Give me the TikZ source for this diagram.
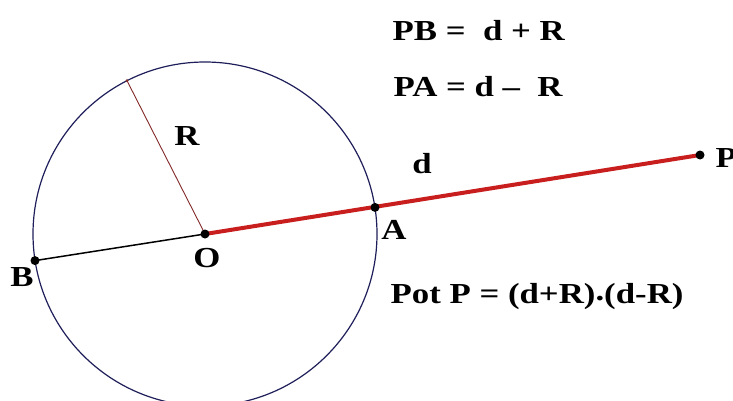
\documentclass[tikz,border=0pt]{standalone}
\usepackage{fontspec}
\newfontfamily\figfont{Liberation Serif}[FakeStretch=1.2]
\usetikzlibrary{calc,positioning}
\definecolor{circblue}{RGB}{30,30,90}
\definecolor{segred}{RGB}{200,30,30}
\definecolor{radred}{RGB}{130,40,40}

\begin{document}
\begin{tikzpicture}[x=1pt, y=-1pt, line width=1.2pt,
    lbl/.style={font=\figfont\bfseries\fontsize{29}{34}\selectfont, inner sep=0pt},
    eqn/.style={lbl, anchor=base west}]
    \useasboundingbox (0,0) rectangle (733,401);

    % Circle and its points
    \coordinate (O) at (205,234);
    \coordinate (A) at (375,207.4);
    \coordinate (B) at (35,260.6);
    \coordinate (Rtip) at (127,80.7);
    \coordinate (P) at (700,155);
    \draw[circblue] (O) circle[radius=172pt];

    % Segments
    \draw[black, line width=1.5pt] (B) -- (O);
    \draw[radred, line width=0.9pt] (O) -- (Rtip);
    \draw[segred, line width=4pt] (O) -- (P);
    \fill[radred] (Rtip) circle (1.5pt);
    \fill (O) circle (4.5pt);
    \fill (A) circle (4.5pt);
    \fill (B) circle (4.5pt);
    \fill (P) circle (4.5pt);

    % Point labels
    \node[lbl] (labR) at (187,136) {R};
    \node[lbl] (labO) at (207,258) {O};
    \node[lbl] (labA) at (394,230) {A};
    \node[lbl] (labB) at (22,277) {B};
    \node[lbl] (labd) at (422,164) {d};
    \node[lbl, anchor=west] (labP) at (715,158) {P};

    % Formulas
    \node[eqn] (eqPB) at (392,41) {PB =\ \ d + R};
    \node[eqn] (eqPA) at (393,97) {PA = d –\ \ R};
    \node[eqn] (eqPot) at (390,303) {Pot P = (d+R)\raisebox{0.1em}{.}(d-R)};
\end{tikzpicture}
\end{document}
